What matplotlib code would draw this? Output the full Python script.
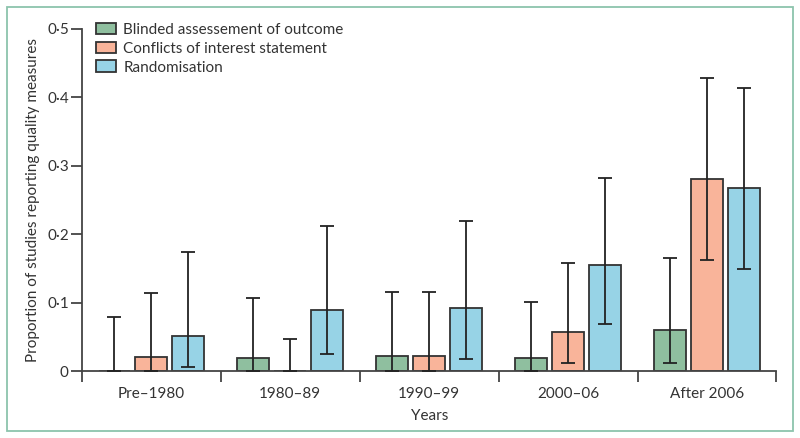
import numpy as np
import matplotlib.pyplot as plt
from matplotlib.patches import Rectangle
from matplotlib.ticker import FuncFormatter

plt.rcParams['font.family'] = ['Lato', 'DejaVu Sans']

periods = ['Pre\u20131980', '1980\u201389', '1990\u201399', '2000\u201306', 'After 2006']
series = ['Blinded assessement of outcome', 'Conflicts of interest statement', 'Randomisation']
colors = ['#8fbf9f', '#f9b49a', '#97d3e6']

# proportions and 95% CI bounds per series
blinded = [0.0, 0.020, 0.0225, 0.0196, 0.061]
blinded_lo = [0.0, 0.0, 0.0, 0.0, 0.0127]
blinded_hi = [0.080, 0.107, 0.1165, 0.102, 0.166]

conflicts = [0.021, 0.0, 0.0225, 0.058, 0.281]
conflicts_lo = [0.0, 0.0, 0.0, 0.0127, 0.163]
conflicts_hi = [0.1146, 0.048, 0.1165, 0.158, 0.428]

random_ = [0.0517, 0.0897, 0.092, 0.1555, 0.2675]
random_lo = [0.007, 0.026, 0.0175, 0.069, 0.150]
random_hi = [0.174, 0.213, 0.219, 0.282, 0.414]

vals = [blinded, conflicts, random_]
lows = [blinded_lo, conflicts_lo, random_lo]
highs = [blinded_hi, conflicts_hi, random_hi]

fig = plt.figure(figsize=(8, 4.38), dpi=100)
ax = fig.add_axes([0.1025, 0.152, 0.868, 0.782])

x = np.arange(len(periods))
width = 0.23
offsets = [-0.266, 0, 0.266]
edge = '#333333'
for i in range(3):
    v = np.array(vals[i])
    lo = v - np.array(lows[i])
    hi = np.array(highs[i]) - v
    ax.bar(x + offsets[i], v, width, color=colors[i], edgecolor=edge,
           linewidth=1.3, label=series[i], zorder=2)
    ax.errorbar(x + offsets[i], v, yerr=[lo, hi], fmt='none', ecolor='#222222',
                elinewidth=1.3, capsize=5, capthick=1.3, zorder=3)

ax.set_xlim(-0.5, len(periods) - 0.5)
ax.set_ylim(0, 0.5)
ax.set_yticks([0, 0.1, 0.2, 0.3, 0.4, 0.5])
ax.yaxis.set_major_formatter(FuncFormatter(
    lambda v, p: '0' if v == 0 else ('%.1f' % v).replace('.', '\u00b7')))
ax.set_xticks(x)
ax.set_xticklabels(periods)
ax.set_xticks(np.arange(len(periods) + 1) - 0.5, minor=True)
ax.tick_params(axis='x', which='major', length=0, pad=11, labelsize=11, colors='#333333')
ax.tick_params(axis='x', which='minor', length=8, width=1.3, color='#444444')
ax.tick_params(axis='y', length=8, width=1.3, color='#444444', labelsize=11,
               labelcolor='#333333', pad=1.5)
for s in ['top', 'right']:
    ax.spines[s].set_visible(False)
for s in ['left', 'bottom']:
    ax.spines[s].set_linewidth(1.3)
    ax.spines[s].set_color('#444444')

ax.set_xlabel('Years', fontsize=11, color='#333333', labelpad=6)
ax.set_ylabel('Proportion of studies reporting quality measures', fontsize=11,
              color='#333333', labelpad=5)

ax.legend(loc='upper left', bbox_to_anchor=(0.012, 1.036), frameon=False, fontsize=11,
          handlelength=1.3, handleheight=0.8, handletextpad=0.45, labelspacing=0.31,
          borderaxespad=0, labelcolor='#333333')

fig.patches.append(Rectangle((0.009, 0.016), 0.982, 0.968, transform=fig.transFigure,
                             fill=False, edgecolor='#8cc4ad', linewidth=1.3))

fig.savefig('out.png', dpi=100)
